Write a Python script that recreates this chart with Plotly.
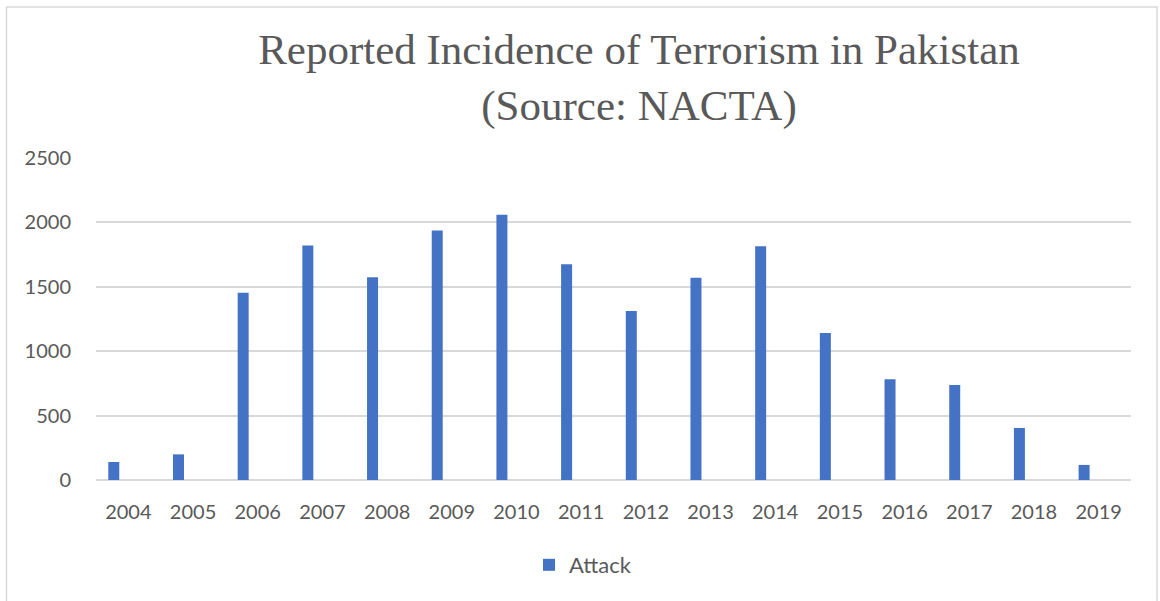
import plotly.graph_objects as go

years = ["2004", "2005", "2006", "2007", "2008", "2009", "2010", "2011",
         "2012", "2013", "2014", "2015", "2016", "2017", "2018", "2019"]
attacks = [140, 199, 1453, 1820, 1574, 1937, 2059, 1675,
           1313, 1570, 1815, 1142, 782, 738, 404, 117]
y_ticks = [0, 500, 1000, 1500, 2000, 2500]

W, H = 1160, 601
L, R, T, B = 96, 29, 158, 121
pw, ph = W - L - R, H - T - B

def px_x(x):
    return (x - L) / pw

def px_y(y):
    return (H - B - y) / ph

GRAY = "#595959"
GRID = "#d9d9d9"

fig = go.Figure()
fig.add_trace(go.Bar(
    x=years, y=attacks, name="Attack",
    marker=dict(color="#4472C4", line=dict(width=0)),
    width=0.17, offset=-0.31,
))

fig.update_layout(
    width=W, height=H,
    margin=dict(l=L, r=R, t=T, b=B),
    paper_bgcolor="white", plot_bgcolor="white",
    showlegend=True,
    title=dict(
        text="Reported Incidence of Terrorism in Pakistan<br>(Source: NACTA)",
        font=dict(family="Liberation Serif", size=43, color=GRAY),
        x=639 / W, xanchor="center", xref="container",
        y=1 - 64 / H, yanchor="top", yref="container",
    ),
    legend=dict(
        orientation="h", x=px_x(529), xanchor="left",
        y=px_y(565), yanchor="middle",
        font=dict(family="Lato", size=22, color=GRAY),
        bgcolor="rgba(0,0,0,0)",
    ),
    xaxis=dict(
        type="category", showgrid=False, showline=False, zeroline=False,
        ticks="outside", ticklen=14, tickcolor="rgba(0,0,0,0)",
        tickfont=dict(family="Lato", size=20, color=GRAY),
        range=[-0.5, 15.5],
    ),
    yaxis=dict(
        range=[0, 2500], tickvals=y_ticks,
        showgrid=True, gridcolor=GRID, gridwidth=1.5,
        zeroline=True, zerolinecolor=GRID, zerolinewidth=1.5,
        showline=False,
        ticks="outside", ticklen=20, tickcolor="rgba(0,0,0,0)",
        tickfont=dict(family="Lato", size=20, color=GRAY),
    ),
    shapes=[dict(
        type="rect", xref="paper", yref="paper",
        x0=px_x(6.5), x1=px_x(1157), y0=px_y(610), y1=px_y(7),
        line=dict(color=GRID, width=1.5), fillcolor="rgba(0,0,0,0)",
        layer="below",
    )],
)

fig.write_html("out.html")
